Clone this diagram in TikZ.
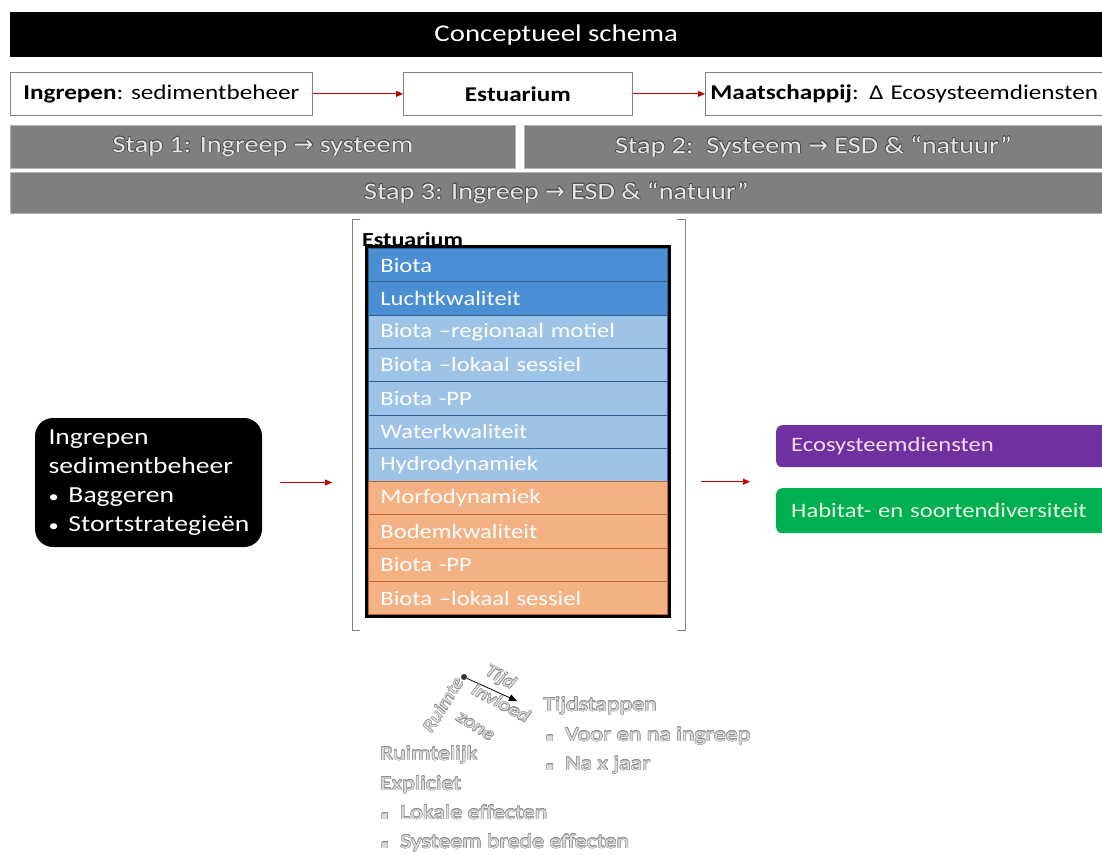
\documentclass[tikz,border=0pt]{standalone}
\usepackage{fontspec}
\setmainfont{Carlito}[FakeStretch=1.2]
\newfontfamily\symfont{DejaVu Sans}
\usepackage[copies]{contour}
\contourlength{0.45pt}
\contournumber{12}
\usetikzlibrary{arrows.meta,fit,calc}

\definecolor{stepgray}{HTML}{7F7F7F}
\definecolor{stepedge}{HTML}{B4B4B4}
\definecolor{steptxt}{HTML}{E6E6E6}
\definecolor{outl}{HTML}{4A4A4A}
\definecolor{faint}{HTML}{DCDCDC}
\definecolor{faintedge}{HTML}{8E8E8E}
\definecolor{blueA}{HTML}{4A8ED3}
\definecolor{blueB}{HTML}{9DC3E6}
\definecolor{orng}{HTML}{F4B183}
\definecolor{blueline}{HTML}{2F5F8F}
\definecolor{orline}{HTML}{C0642A}
\definecolor{purp}{HTML}{7030A0}
\definecolor{grn}{HTML}{00B050}
\definecolor{redarr}{HTML}{C00000}
\definecolor{boxedge}{HTML}{808080}

% outlined light text on the grey bars and below the stack
\newcommand{\steptext}[1]{{\contourlength{0.6pt}\color{steptxt}\contour{outl}{#1}}}
\newcommand{\softtext}[1]{{\color{faint}\contour{faintedge}{#1}}}
\newcommand{\rarr}{{\symfont →}}
\newcommand{\sqb}{{\symfont\fontsize{11}{11}\selectfont ▪}}
\newcommand{\blt}{\makebox[20pt][l]{\fontsize{17}{17}\selectfont •}}

\tikzset{
  topbox/.style={draw=boxedge, line width=0.8pt, fill=white, minimum height=43pt,
    inner sep=0pt, anchor=north west, font=\fontsize{21}{25}\selectfont},
  stepbar/.style={fill=stepgray, draw=stepedge, line width=1pt, minimum height=43pt,
    inner sep=0pt, anchor=north west, font=\fontsize{23.5}{27}\selectfont},
  layer/.style={anchor=north west, minimum width=299pt, minimum height=33.3pt,
    text width=275pt, inner xsep=12pt, inner ysep=0pt, align=left, text=white,
    line width=0.8pt, font=\fontsize{20.5}{24}\selectfont},
  redline/.style={draw=redarr, line width=0.9pt, -{Triangle[length=7pt,width=6pt]}},
  bracket/.style={draw=boxedge, line width=1pt},
  outcome/.style={anchor=north west, rounded corners=6pt, minimum width=340pt,
    text width=310pt, inner xsep=15pt, align=left, font=\fontsize{20.5}{24}\selectfont},
  axlab/.style={inner sep=0pt, font=\itshape\fontsize{18}{20}\selectfont},
  softlab/.style={inner sep=0pt, anchor=base west, font=\fontsize{20}{24}\selectfont}
}

\begin{document}
\begin{tikzpicture}[x=1pt,y=-1pt]
\fill[white] (0,0) rectangle (1102,854);
\clip (0,0) rectangle (1102,854);

% title bar
\node[fill=black, minimum width=1092pt, minimum height=45pt, anchor=north west,
  inner sep=0pt, text=white, font=\fontsize{24}{28}\selectfont] (title) at (10,12)
  {Conceptueel schema};

% chain of the three levels
\node[topbox, minimum width=302pt] (ing) at (10,72) {\textbf{Ingrepen}: sedimentbeheer};
\node[topbox, minimum width=229pt] (est) at (403,72) {\textbf{Estuarium}};
\node[topbox, minimum width=400pt, text width=390pt, inner xsep=5pt, align=left]
  (maat) at (705,72) {\mbox{\textbf{Maatschappij}: Δ Ecosysteemdiensten}};
\draw[redline] (ing) -- (est);
\draw[redline] (est) -- (maat);

% steps
\node[stepbar, minimum width=505pt] (s1) at (10,125)
  {\steptext{Stap 1: Ingreep \rarr{} systeem}};
\node[stepbar, minimum width=578pt] (s2) at (524,125)
  {\steptext{Stap 2:\ \ Systeem \rarr{} ESD \& “natuur”}};
\node[stepbar, minimum width=1092pt, minimum height=41pt] (s3) at (10,172)
  {\steptext{Stap 3: Ingreep \rarr{} ESD \& “natuur”}};

% bracket around the estuary stack
\draw[bracket] (360,219) -- (352,219) -- (352,630) -- (360,630);
\draw[bracket] (677,219) -- (685,219) -- (685,630) -- (677,630);

% layers of the estuary
\foreach [count=\i] \t/\c/\l in {
  Biota/blueA/blueline,
  Luchtkwaliteit/blueA/blueline,
  Biota –regionaal motiel/blueB/blueline,
  Biota –lokaal sessiel/blueB/blueline,
  Biota -PP/blueB/blueline,
  Waterkwaliteit/blueB/blueline,
  Hydrodynamiek/blueB/blueline,
  Morfodynamiek/orng/orline,
  Bodemkwaliteit/orng/orline,
  Biota -PP/orng/orline,
  Biota –lokaal sessiel/orng/orline}
{
  \node[layer, fill=\c, draw=\l] (r\i) at (368,{248+33.3*(\i-1)}) {\t};
}
\node[draw=black, line width=3pt, fit=(r1)(r11), inner sep=1.5pt] (stack) {};
\node[anchor=base west, inner sep=0pt, font=\bfseries\fontsize{20}{24}\selectfont]
  (estlab) at (362,246) {Estuarium};

% interventions
\node[fill=black, rounded corners=18pt, minimum width=227pt, minimum height=129pt,
  text width=200pt, inner xsep=0pt, align=left, text=white,
  font=\fontsize{23}{29}\selectfont] (ingr) at (148.5,482.5)
  {Ingrepen\\sedimentbeheer\\\blt Baggeren\\\blt Stortstrategieën};

% outcomes
\node[outcome, fill=purp, text={rgb,255:red,245;green,222;blue,245}, minimum height=42pt]
  (eco) at (776,425) {Ecosysteemdiensten};
\node[outcome, fill=grn, text={rgb,255:red,232;green,248;blue,232}, minimum height=45pt]
  (hab) at (776,488) {Habitat- en soortendiversiteit};
\coordinate (outin) at ($(eco.south west)!0.5!(hab.north west)+(0,4)$);

\draw[redline, shorten <=18pt, shorten >=33pt] (ingr.east) -- (stack.west |- ingr.east);
\draw[redline, shorten <=30pt, shorten >=26pt] (stack.east |- outin) -- (outin);

% time / space axes
\node[circle, fill=black!80, inner sep=0pt, minimum size=6pt] (orig) at (464,677) {};
\coordinate (tend) at (517,701);
\draw[line width=0.8pt, -{Triangle[length=8pt,width=7pt]}] (orig) -- (tend);
\node[axlab, rotate=-30] (tijd) at (500,678) {\softtext{Tijd}};
\node[axlab, rotate=58] (ruimte) at (443,705) {\softtext{Ruimte}};
\node[axlab, rotate=-28] (invl) at (501,703) {\softtext{Invloed}};
\node[axlab, rotate=-32] (zone) at (475,727) {\softtext{zone}};

% time steps
\node[softlab] (tst) at (543,711) {\softtext{Tijdstappen}};
\node[softlab] (tb1) at (546,741) {\softtext{\sqb}};
\node[softlab] (tt1) at (565,741) {\softtext{Voor en na ingreep}};
\node[softlab] (tb2) at (546,770) {\softtext{\sqb}};
\node[softlab] (tt2) at (565,770) {\softtext{Na x jaar}};

% spatial scope
\node[softlab] (rl) at (380,760) {\softtext{Ruimtelijk}};
\node[softlab] (ex) at (380,790) {\softtext{Expliciet}};
\node[softlab] (rb1) at (381,819) {\softtext{\sqb}};
\node[softlab] (rt1) at (400,819) {\softtext{Lokale effecten}};
\node[softlab] (rb2) at (381,848) {\softtext{\sqb}};
\node[softlab] (rt2) at (400,848) {\softtext{Systeem brede effecten}};
\end{tikzpicture}
\end{document}
